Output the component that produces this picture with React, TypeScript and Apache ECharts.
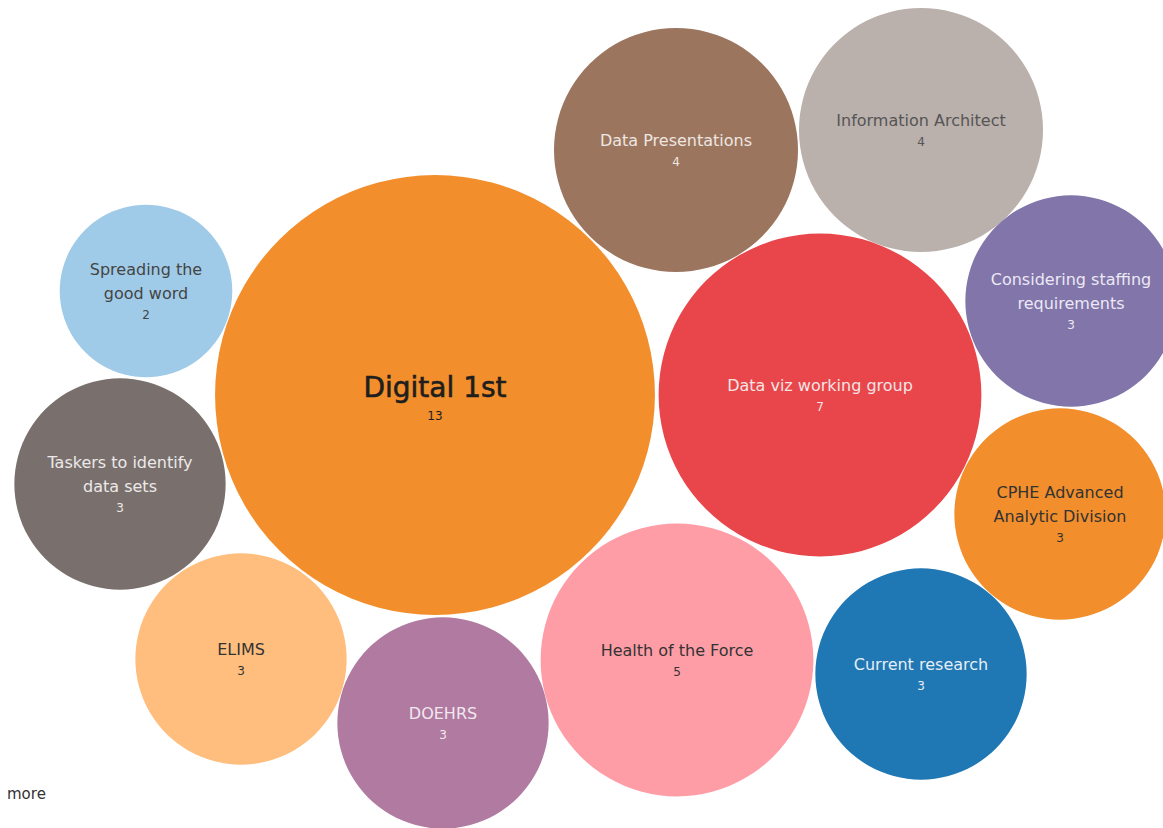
import React, { useEffect, useRef } from "react";
import * as echarts from "echarts";

// ---- data ----
const categories = [
  "Digital 1st",
  "Data viz working group",
  "Data Presentations",
  "Information Architect",
  "Considering staffing requirements",
  "CPHE Advanced Analytic Division",
  "Current research",
  "Health of the Force",
  "DOEHRS",
  "ELIMS",
  "Taskers to identify data sets",
  "Spreading the good word",
];
const counts = [13, 7, 4, 4, 3, 3, 3, 5, 3, 3, 3, 2];

// ---- presentation (layout / style, kept apart from data) ----
const labelLines = [
  "Digital 1st",
  "Data viz working group",
  "Data Presentations",
  "Information Architect",
  "Considering staffing\nrequirements",
  "CPHE Advanced\nAnalytic Division",
  "Current research",
  "Health of the Force",
  "DOEHRS",
  "ELIMS",
  "Taskers to identify\ndata sets",
  "Spreading the\ngood word",
];
const centers: [number, number][] = [
  [435, 395],
  [820, 395],
  [676, 150],
  [921, 130],
  [1071, 301],
  [1060, 514],
  [921, 674],
  [677, 660],
  [443, 723],
  [241, 659],
  [120, 484],
  [146, 291],
];
const colors = [
  "#F28E2B",
  "#E8464B",
  "#9C755F",
  "#BAB0AC",
  "#8175AA",
  "#F28E2B",
  "#1F77B4",
  "#FF9DA7",
  "#B07AA1",
  "#FFBE7D",
  "#79706E",
  "#A0CBE8",
];
const textColors = [
  "#1e1e1e",
  "#f3e4e4",
  "#eee6e0",
  "#555555",
  "#ece8f4",
  "#333333",
  "#e6eef6",
  "#333333",
  "#f2e8ef",
  "#333333",
  "#ece9e8",
  "#444444",
];

const SCALE = 61; // radius per sqrt(count)
const FONT = "DejaVu Sans";

export default function App() {
  const ref = useRef<HTMLDivElement>(null);
  useEffect(() => {
    if (!ref.current) return;
    const chart = echarts.init(ref.current, undefined, { renderer: "svg" });
    const data = categories.map((name, i) => {
      const big = i === 0;
      return {
        name,
        value: [centers[i][0], centers[i][1], counts[i]],
        symbolSize: 2 * SCALE * Math.sqrt(counts[i]),
        itemStyle: { color: colors[i], opacity: 1 },
        label: {
          show: true,
          position: "inside",
          formatter: big
            ? `{b|${labelLines[i]}}\n{bv|${counts[i]}}`
            : `{n|${labelLines[i].split("\n").join("}\n{n|")}}\n{v|${counts[i]}}`,
          rich: {
            b: {
              fontSize: 28,
              color: textColors[i],
              fontFamily: FONT,
              lineHeight: 42,
              textBorderColor: textColors[i],
              textBorderWidth: 0.6,
            },
            bv: { fontSize: 12, color: textColors[i], fontFamily: FONT, lineHeight: 16 },
            n: { fontSize: 16, color: textColors[i], fontFamily: FONT, lineHeight: 24 },
            v: { fontSize: 12, color: textColors[i], fontFamily: FONT, lineHeight: 20 },
          },
        },
      };
    });
    chart.setOption({
      animation: false,
      backgroundColor: "#ffffff",
      grid: { left: 0, right: 0, top: 0, bottom: 0 },
      xAxis: { type: "value", min: 0, max: 1163, show: false },
      yAxis: { type: "value", min: 0, max: 828, inverse: true, show: false },
      series: [
        {
          type: "scatter",
          symbol: "circle",
          data,
          emphasis: { disabled: true },
        },
      ],
      graphic: [
        {
          type: "text",
          left: 7,
          top: 786,
          style: { text: "more", fontSize: 15, fill: "#333", fontFamily: FONT },
        },
      ],
    });
    return () => chart.dispose();
  }, []);
  return (
    <div
      ref={ref}
      style={{ position: "fixed", left: 0, top: 0, width: 1163, height: 828 }}
    />
  );
}
